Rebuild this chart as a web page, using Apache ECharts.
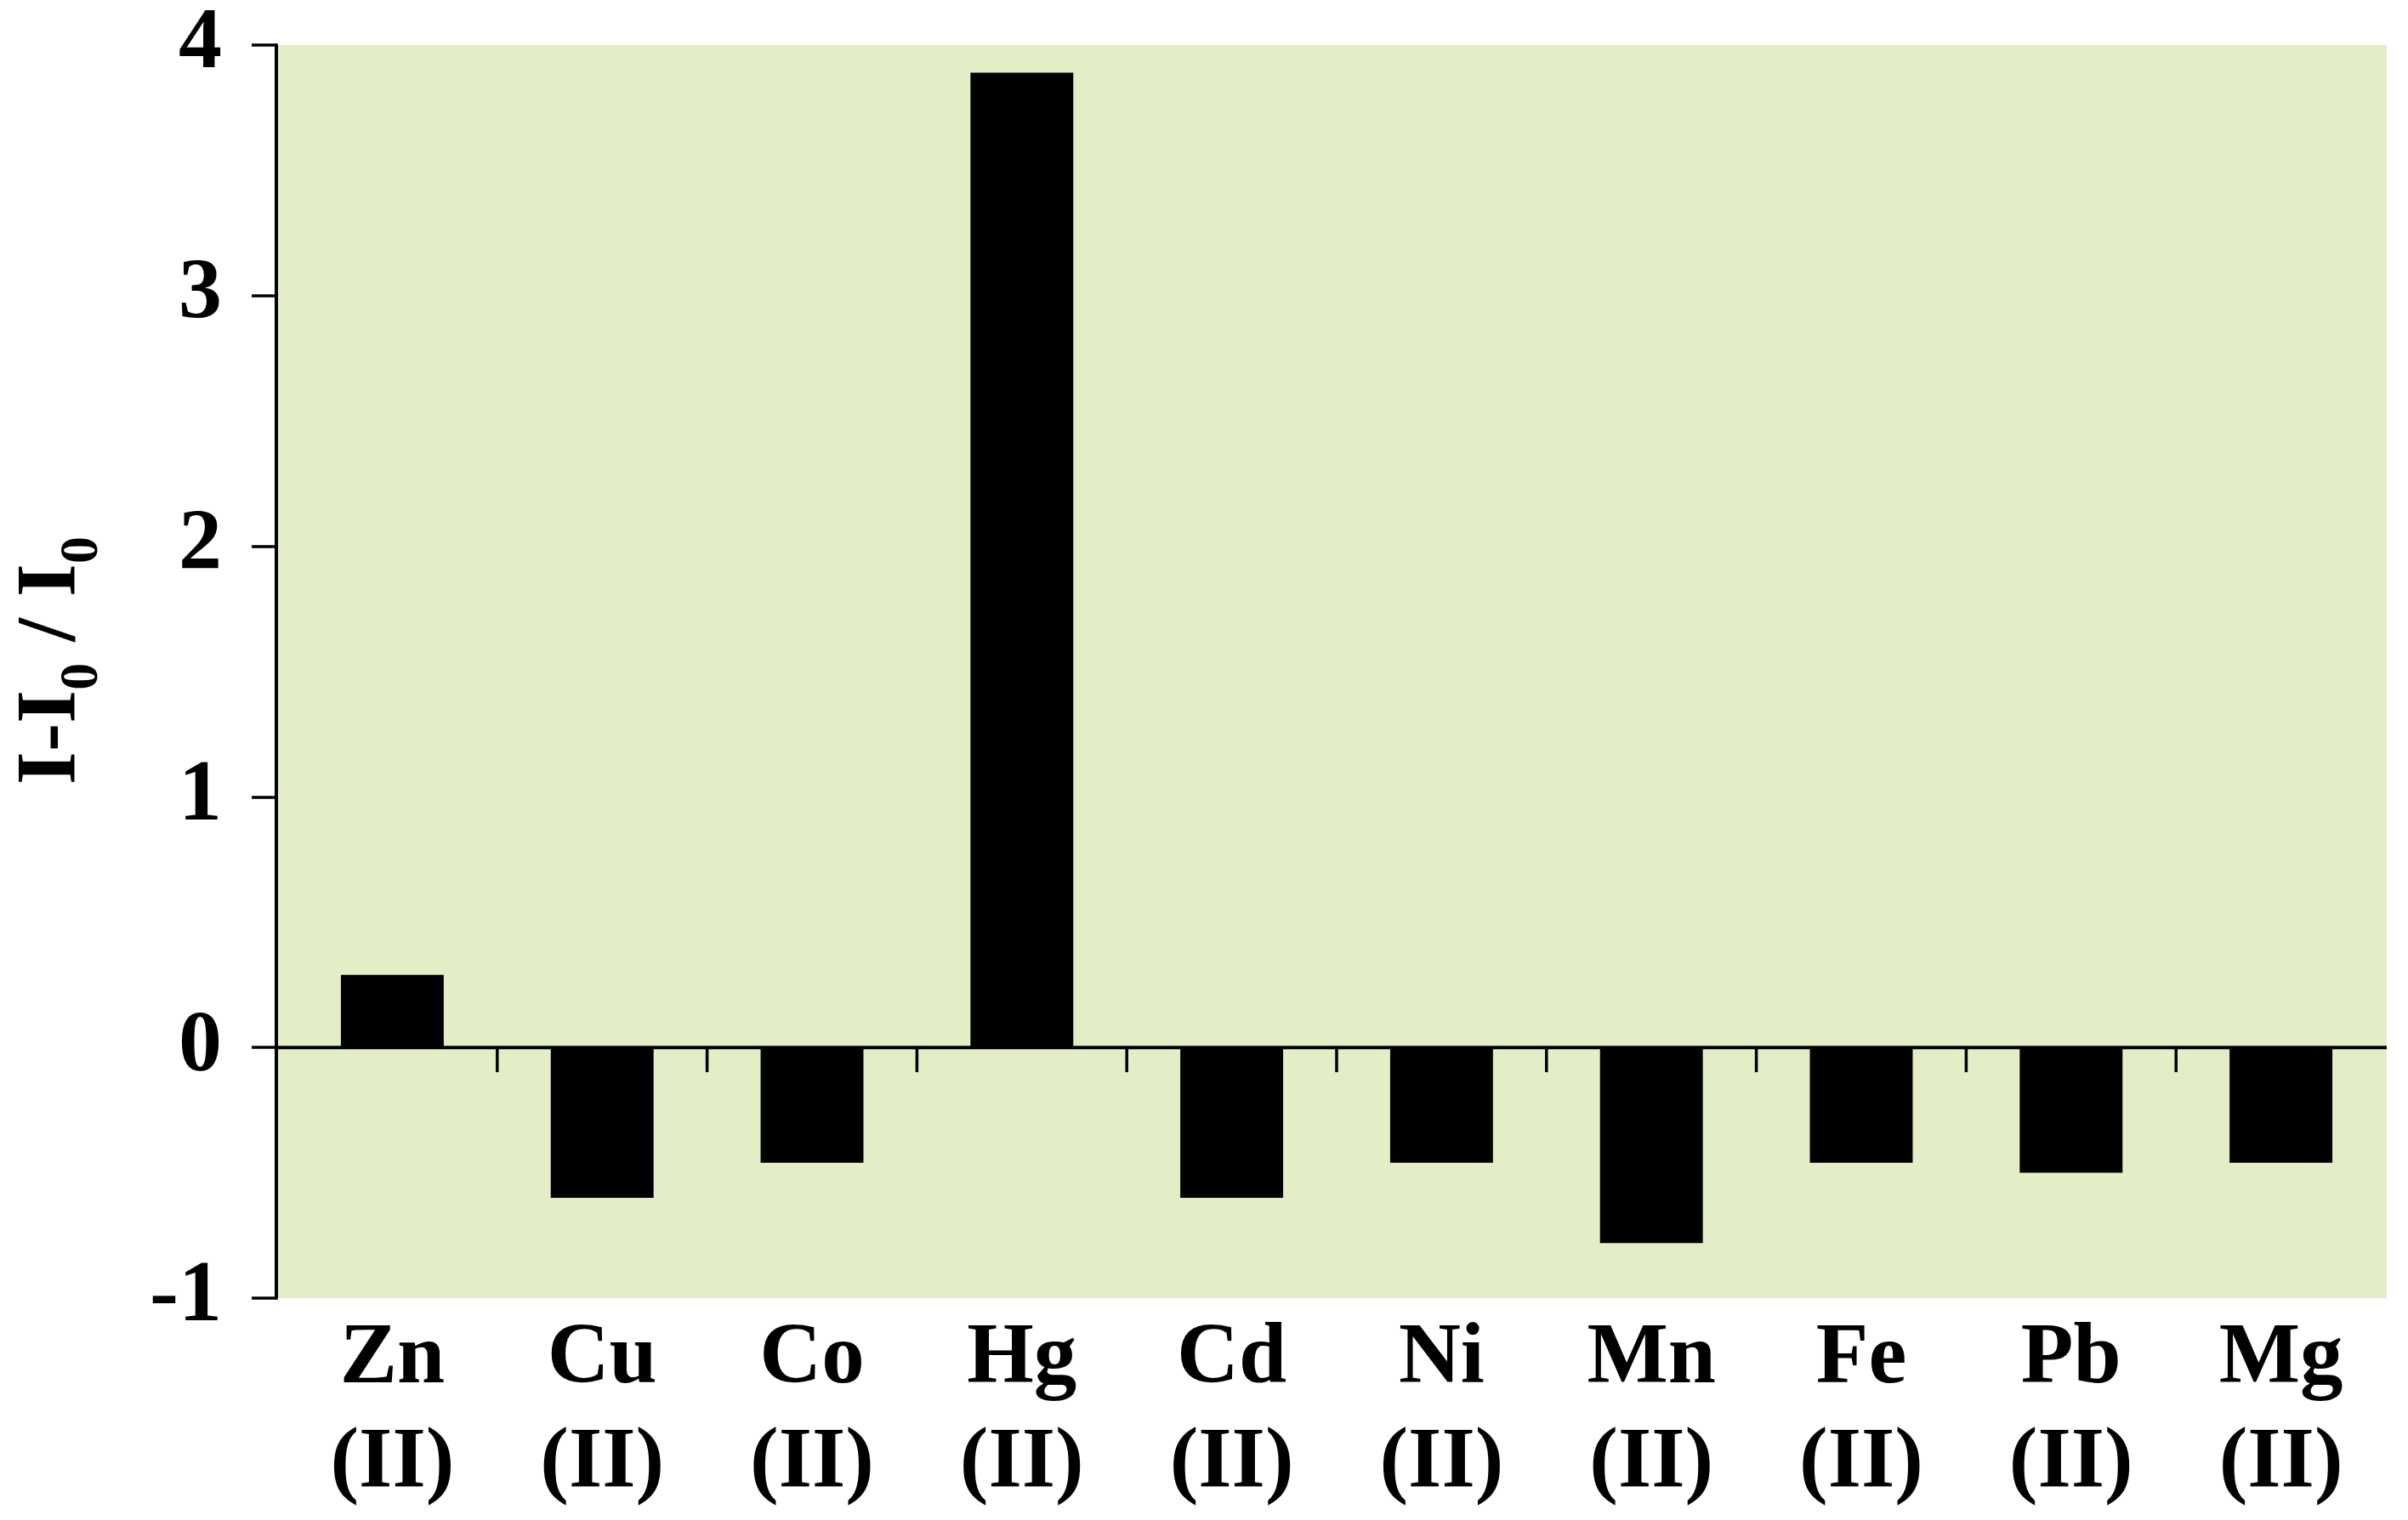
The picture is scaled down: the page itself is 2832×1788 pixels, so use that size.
<!DOCTYPE html>
<html>
<head>
<meta charset="utf-8">
<script src="https://cdn.jsdelivr.net/npm/echarts@6/dist/echarts.min.js"></script>
<style>
  html, body { margin: 0; padding: 0; background: #ffffff; }
  #chart { width: 2832px; height: 1788px; }
</style>
</head>
<body>
<div id="chart"></div>
<script>
// ---- data ----
const ions = ['Zn', 'Cu', 'Co', 'Hg', 'Cd', 'Ni', 'Mn', 'Fe', 'Pb', 'Mg'];
const oxidationLabel = '(II)';
const values = [0.29, -0.60, -0.46, 3.89, -0.60, -0.46, -0.78, -0.46, -0.50, -0.46];
const yMin = -1;
const yMax = 4;
const yInterval = 1;

// ---- derived ----
const categories = ions.map(function (s) { return s + '\n' + oxidationLabel; });
const boundaryIdx = ions.map(function (_, i) { return [i, 0]; }).slice(1);

const FONT = '"Liberation Serif", "Times New Roman", serif';
const AXIS_OFFSET = 13;
const BG = '#e3eec7';

const chart = echarts.init(document.getElementById('chart'), null, { renderer: 'canvas' });

const option = {
  backgroundColor: '#ffffff',
  animation: false,
  grid: { left: 338, right: 26, top: 53, bottom: 261, containLabel: false },
  xAxis: {
    type: 'category',
    data: categories,
    position: 'bottom',
    axisLine: { show: false, onZero: false },
    axisTick: { show: false },
    splitLine: { show: false },
    axisLabel: {
      interval: 0,
      margin: 11,
      color: '#000',
      fontFamily: FONT,
      fontWeight: 'bold',
      fontSize: 101,
      lineHeight: 123
    }
  },
  yAxis: {
    type: 'value',
    min: yMin,
    max: yMax,
    interval: yInterval,
    offset: AXIS_OFFSET,
    z: 10,
    name: '{a|I-I}{b|0}{a| / I}{b|0}',
    nameLocation: 'middle',
    nameRotate: 90,
    nameGap: 196,
    nameTextStyle: {
      color: '#000',
      fontFamily: FONT,
      fontWeight: 'bold',
      fontSize: 100,
      padding: [0, 0, 0, 26],
      rich: {
        a: { fontFamily: FONT, fontWeight: 'bold', fontSize: 100, lineHeight: 136, color: '#000' },
        b: { fontFamily: FONT, fontWeight: 'bold', fontSize: 64, lineHeight: 64, verticalAlign: 'bottom', color: '#000' }
      }
    },
    axisLine: { show: true, lineStyle: { color: '#000', width: 4 } },
    axisTick: { show: true, inside: false, length: 29, lineStyle: { color: '#000', width: 3.5 } },
    splitLine: { show: false },
    axisLabel: {
      margin: 64,
      color: '#000',
      fontFamily: FONT,
      fontWeight: 'bold',
      fontSize: 102
    }
  },
  series: [
    {
      // plot background (extends to the offset y axis)
      type: 'custom',
      z: 0,
      silent: true,
      data: [[0, 0]],
      renderItem: function (params, api) {
        const cs = params.coordSys;
        return {
          type: 'rect',
          shape: { x: cs.x - AXIS_OFFSET, y: cs.y, width: cs.width + AXIS_OFFSET + 1, height: cs.height },
          style: { fill: BG }
        };
      }
    },
    {
      type: 'bar',
      z: 2,
      data: values,
      barWidth: '49%',
      itemStyle: { color: '#000000' }
    },
    {
      // zero baseline
      type: 'custom',
      z: 5,
      silent: true,
      data: [[0, 0]],
      renderItem: function (params, api) {
        const cs = params.coordSys;
        const p = api.coord([0, 0]);
        return {
          type: 'line',
          shape: { x1: cs.x - AXIS_OFFSET, y1: p[1], x2: cs.x + cs.width + 1, y2: p[1] },
          style: { stroke: '#000', lineWidth: 4 }
        };
      }
    },
    {
      // category boundary ticks hanging from the zero line
      type: 'custom',
      z: 5,
      silent: true,
      data: boundaryIdx,
      renderItem: function (params, api) {
        const p = api.coord([api.value(0), 0]);
        const bw = api.size([1, 0])[0];
        const x = p[0] - bw / 2;
        return {
          type: 'line',
          shape: { x1: x, y1: p[1], x2: x, y2: p[1] + 29 },
          style: { stroke: '#000', lineWidth: 3.5 }
        };
      }
    }
  ]
};

chart.setOption(option);
</script>
</body>
</html>
